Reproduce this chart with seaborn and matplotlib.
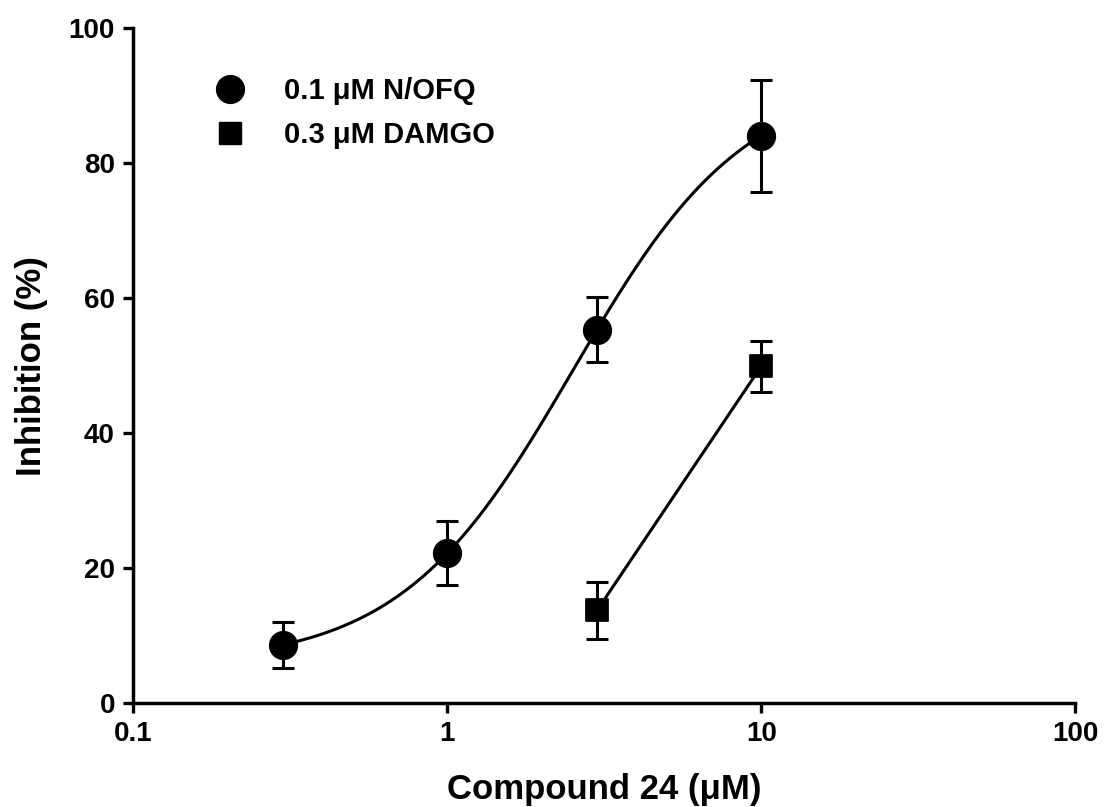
import numpy as np
import pandas as pd
import matplotlib
matplotlib.use("Agg")
import matplotlib.pyplot as plt
import seaborn as sns
from matplotlib.lines import Line2D

# ---- data ----
nofq_conc = [0.3, 1, 3, 10]
nofq_inhib = [8.6, 22.2, 55.3, 84.1]
nofq_err = [3.4, 4.7, 4.8, 8.3]

damgo_conc = [3, 10]
damgo_inhib = [13.7, 49.9]
damgo_err = [4.2, 3.8]

series_labels = ["0.1 \u03bcM N/OFQ", "0.3 \u03bcM DAMGO"]
x_ticks = [0.1, 1, 10, 100]
x_ticklabels = ["0.1", "1", "10", "100"]
y_ticks = [0, 20, 40, 60, 80, 100]


def hill(x, bottom, top, ec50, h):
    return bottom + (top - bottom) / (1.0 + (ec50 / x) ** h)


def fit_hill(x, y):
    x = np.asarray(x, float)
    y = np.asarray(y, float)
    best = None
    for ec50 in np.exp(np.linspace(np.log(0.5), np.log(30), 300)):
        for h in np.linspace(0.6, 3.0, 121):
            f = 1.0 / (1.0 + (ec50 / x) ** h)
            A = np.column_stack([1 - f, f])
            coef, *_ = np.linalg.lstsq(A, y, rcond=None)
            b, t = coef
            if b < 0 or t > 110:
                continue
            pred = b + (t - b) * f
            sse = np.sum((pred - y) ** 2) + 0.002 * (t - 90) ** 2
            if best is None or sse < best[0]:
                best = (sse, b, t, ec50, h)
    return best[1:]


p1 = fit_hill(nofq_conc, nofq_inhib)
xs1 = np.logspace(np.log10(min(nofq_conc)), np.log10(max(nofq_conc)), 300)
curve1 = pd.DataFrame({"x": xs1, "y": hill(xs1, *p1)})

df1 = pd.DataFrame({"x": nofq_conc, "y": nofq_inhib, "e": nofq_err})
df2 = pd.DataFrame({"x": damgo_conc, "y": damgo_inhib, "e": damgo_err})

sns.set_theme(style="ticks")
plt.rcParams["font.family"] = ["Liberation Sans", "DejaVu Sans"]
plt.rcParams["font.weight"] = "bold"
plt.rcParams["text.color"] = "black"
plt.rcParams["axes.labelcolor"] = "black"

fig = plt.figure(figsize=(11.04, 8.07), dpi=100)
ax = fig.add_axes([0.1205, 0.129, 0.8535, 0.836])

ax.set_xscale("log")
sns.lineplot(data=curve1, x="x", y="y", ax=ax, color="black", lw=2.2, zorder=2)
sns.lineplot(data=df2, x="x", y="y", ax=ax, color="black", lw=2.2, zorder=2)

for d in (df1, df2):
    ax.errorbar(d["x"], d["y"], yerr=d["e"], fmt="none", ecolor="black",
                elinewidth=2.2, capsize=8, capthick=2.2, zorder=3)

sns.scatterplot(data=df1, x="x", y="y", ax=ax, marker="o", s=380,
                color="black", edgecolor="black", zorder=4)
sns.scatterplot(data=df2, x="x", y="y", ax=ax, marker="s", s=250,
                color="black", edgecolor="black", zorder=4)

ax.set_xlim(0.1, 100)
ax.set_ylim(0, 100)
ax.set_xticks(x_ticks)
ax.set_xticklabels(x_ticklabels)
ax.xaxis.set_minor_locator(matplotlib.ticker.NullLocator())
ax.set_yticks(y_ticks)
ax.tick_params(axis="both", which="major", labelsize=20, width=2.4,
               length=7, pad=6, direction="out", color="black", labelcolor="black")
for lab in ax.get_xticklabels() + ax.get_yticklabels():
    lab.set_fontweight("bold")

sns.despine(ax=ax)
for s in ("left", "bottom"):
    ax.spines[s].set_linewidth(2.5)
    ax.spines[s].set_color("black")

ax.set_xlabel("Compound 24 (\u03bcM)", fontsize=25, fontweight="bold",
              labelpad=19, color="black")
ax.set_ylabel("Inhibition (%)", fontsize=25, fontweight="bold",
              labelpad=15, color="black")

handles = [
    Line2D([], [], marker="o", color="black", linestyle="none", markersize=20),
    Line2D([], [], marker="s", color="black", linestyle="none", markersize=16),
]
leg = ax.legend(handles, series_labels, loc="upper left",
                bbox_to_anchor=(0.0875, 0.928), frameon=False,
                prop={"size": 21, "weight": "bold"}, handlelength=1.0,
                handletextpad=1.35, labelspacing=0.55, borderpad=0,
                borderaxespad=0, labelcolor="black")

fig.savefig("out.png", dpi=100)
